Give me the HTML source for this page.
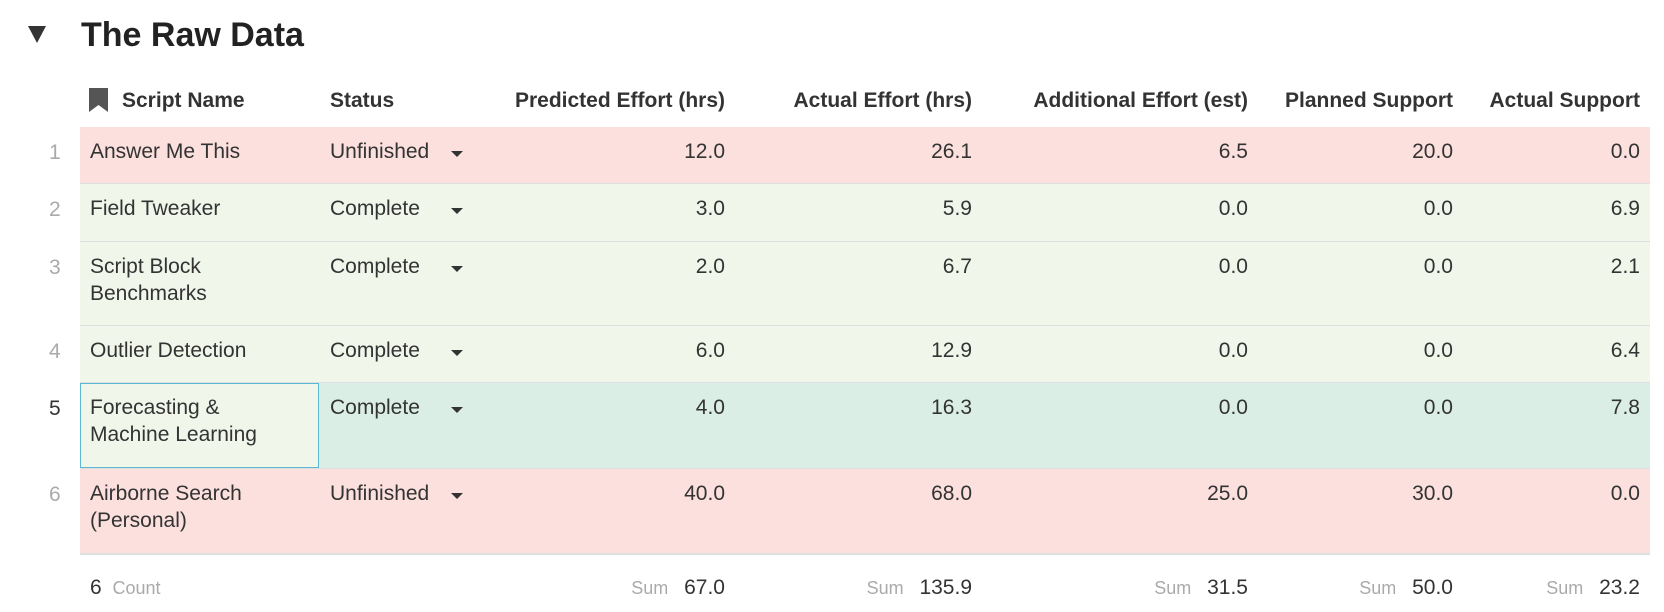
<!DOCTYPE html>
<html><head><meta charset="utf-8"><style>
body{margin:0;width:1664px;height:612px;background:#fff;font-family:"Liberation Sans",sans-serif;color:#333;position:relative;overflow:hidden}
.a{position:absolute;white-space:nowrap}
.num{text-align:right}
.hd{font-weight:bold;font-size:21px;color:#333;top:89px}
.cell{font-size:21px;line-height:27px}
</style></head><body>
<div class="a" style="left:28px;top:26px;width:0;height:0;border-left:9px solid transparent;border-right:9px solid transparent;border-top:17px solid #333"></div>
<div class="a" style="left:81px;top:16px;font-size:34px;font-weight:bold;color:#222">The Raw Data</div>
<svg class="a" style="left:89px;top:88px" width="19" height="24"><path d="M0 0H19V24L9.5 17L0 24Z" fill="#555"/></svg>
<div class="a hd" style="left:122px">Script Name</div>
<div class="a hd" style="left:330px">Status</div>
<div class="a hd num" style="right:939px">Predicted Effort (hrs)</div>
<div class="a hd num" style="right:692px">Actual Effort (hrs)</div>
<div class="a hd num" style="right:416px">Additional Effort (est)</div>
<div class="a hd num" style="right:211px">Planned Support</div>
<div class="a hd num" style="right:24px">Actual Support</div>
<div id="rows"></div>
<script>
const names=["Answer Me This","Field Tweaker","Script Block<br>Benchmarks","Outlier Detection","Forecasting &amp;<br>Machine Learning","Airborne Search<br>(Personal)"];
const statuses=["Unfinished","Complete","Complete","Complete","Complete","Unfinished"];
const predicted=[12.0,3.0,2.0,6.0,4.0,40.0];
const actual=[26.1,5.9,6.7,12.9,16.3,68.0];
const additional=[6.5,0,0,0,0,25.0];
const planned=[20.0,0,0,0,0,30.0];
const actualSupport=[0,6.9,2.1,6.4,7.8,0];
const tops=[127,184,242,326,383,469];
const bots=[183,241,325,382,468,553];
const root=document.getElementById('rows');
function add(html,name,inter){const d=document.createElement('div');d.innerHTML=html;const el=d.firstChild;


root.appendChild(el);return el;}
const rights=[939,692,416,211,24];
const cols=[predicted,actual,additional,planned,actualSupport];
const colNames=['predicted','actual','additional','planned','actual-support'];
for(let i=0;i<names.length;i++){
  const t=tops[i],h=bots[i]-t;
  const bg=statuses[i]==='Unfinished'?'#fbe0dd':(i===4?'#dbeee5':'#f0f6ea');
  add(`<div class="a" style="left:80px;top:${t}px;width:1570px;height:${h}px;background:${bg};border-bottom:2px solid #dde0e0"></div>`,'row-'+(i+1),'true');
  add(`<div class="a cell" style="left:49px;top:${t+12}px;color:${i===4?'#333':'#aaa'}">${i+1}</div>`,'row-number','false');
  if(i===4) add(`<div class="a" style="left:80px;top:${t}px;width:237px;height:${h-2}px;background:#f0f6ea;border:1px solid #5bb8d0"></div>`,'selected-cell','true');
  add(`<div class="a cell" style="left:90px;top:${t+11}px">${names[i]}</div>`,'script-name','true');
  add(`<div class="a cell" style="left:330px;top:${t+11}px">${statuses[i]}</div>`,'status-value','true');
  add(`<div class="a" style="left:451px;top:${t+24}px;width:0;height:0;border-left:6px solid transparent;border-right:6px solid transparent;border-top:6px solid #333"></div>`,'status-dropdown','true');
  for(let c=0;c<5;c++) add(`<div class="a cell num" style="right:${rights[c]}px;top:${t+11}px">${cols[c][i].toFixed(1)}</div>`,colNames[c]+'-value','true');
}
add(`<div class="a cell" style="left:90px;top:574px">6 <span style="color:#aaa;font-size:18px">&nbsp;Count</span></div>`,'count-footer','false');
for(let c=0;c<5;c++){const s=cols[c].reduce((a,b)=>a+b,0);
  add(`<div class="a cell num" style="right:${rights[c]}px;top:574px"><span style="color:#aaa;font-size:18px">Sum&nbsp;&nbsp;</span> ${s.toFixed(1)}</div>`,colNames[c]+'-sum','false');}
</script>
</body></html>
